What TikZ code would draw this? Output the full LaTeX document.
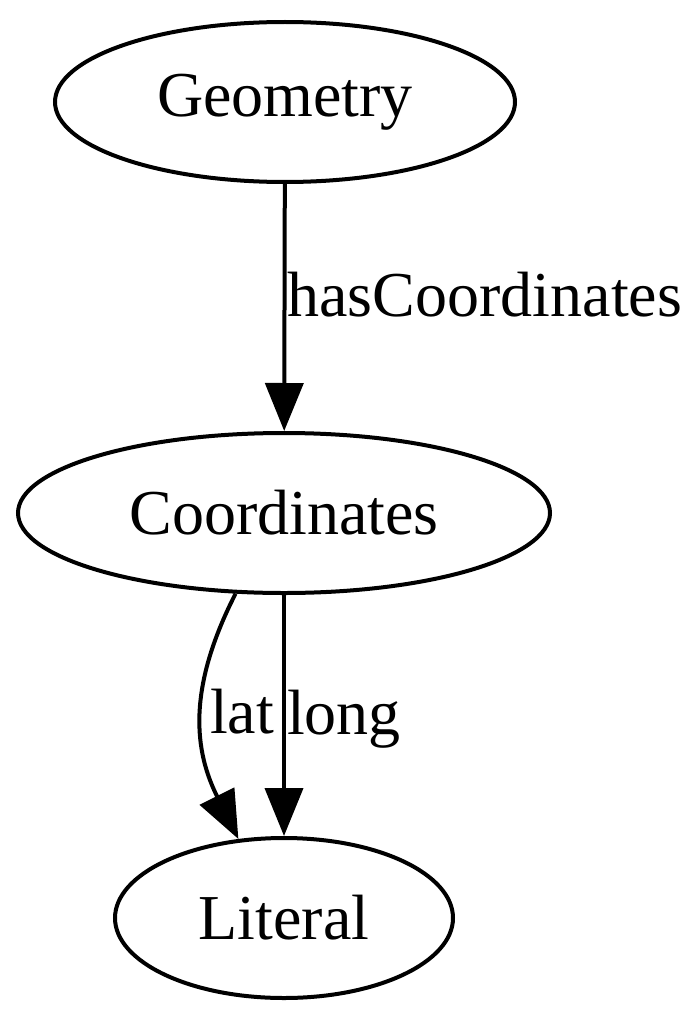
\documentclass[tikz,border=0pt]{standalone}
\usepackage{fontspec}
\setmainfont{Liberation Serif}
\usetikzlibrary{shapes.geometric,arrows.meta}
\tikzset{
    ent/.style={ellipse, draw, line width=2pt, inner sep=0pt, font=\fontsize{32}{38}\selectfont},
    rel/.style={line width=2pt, -{Triangle[length=24pt,width=19pt]}},
    lbl/.style={font=\fontsize{32}{38}\selectfont, anchor=base west, inner sep=0.5pt}
}
\begin{document}
\begin{tikzpicture}[x=0.5pt, y=-0.5pt]
    \useasboundingbox (0, 0) rectangle (700, 1022);

    \node[ent, minimum width=230pt, minimum height=80pt] (geometry) at (285, 102) {Geometry};
    \node[ent, minimum width=266pt, minimum height=80pt] (coords) at (284, 513) {Coordinates};
    \node[ent, minimum width=169pt, minimum height=80pt] (literal) at (284, 918) {Literal};

        \draw[rel] (geometry) -- (coords)
            node[lbl, pos=0.535] {hasCoordinates};
        \draw[rel] (coords.239) .. controls +(-49, 96) and +(-44, -88) .. (literal.120)
            node[lbl, pos=0.56, inner sep=2.5pt] {lat};
        \draw[rel] (coords.south -| literal.north) -- (literal.north)
            node[lbl, pos=0.58] {long};
\end{tikzpicture}
\end{document}
